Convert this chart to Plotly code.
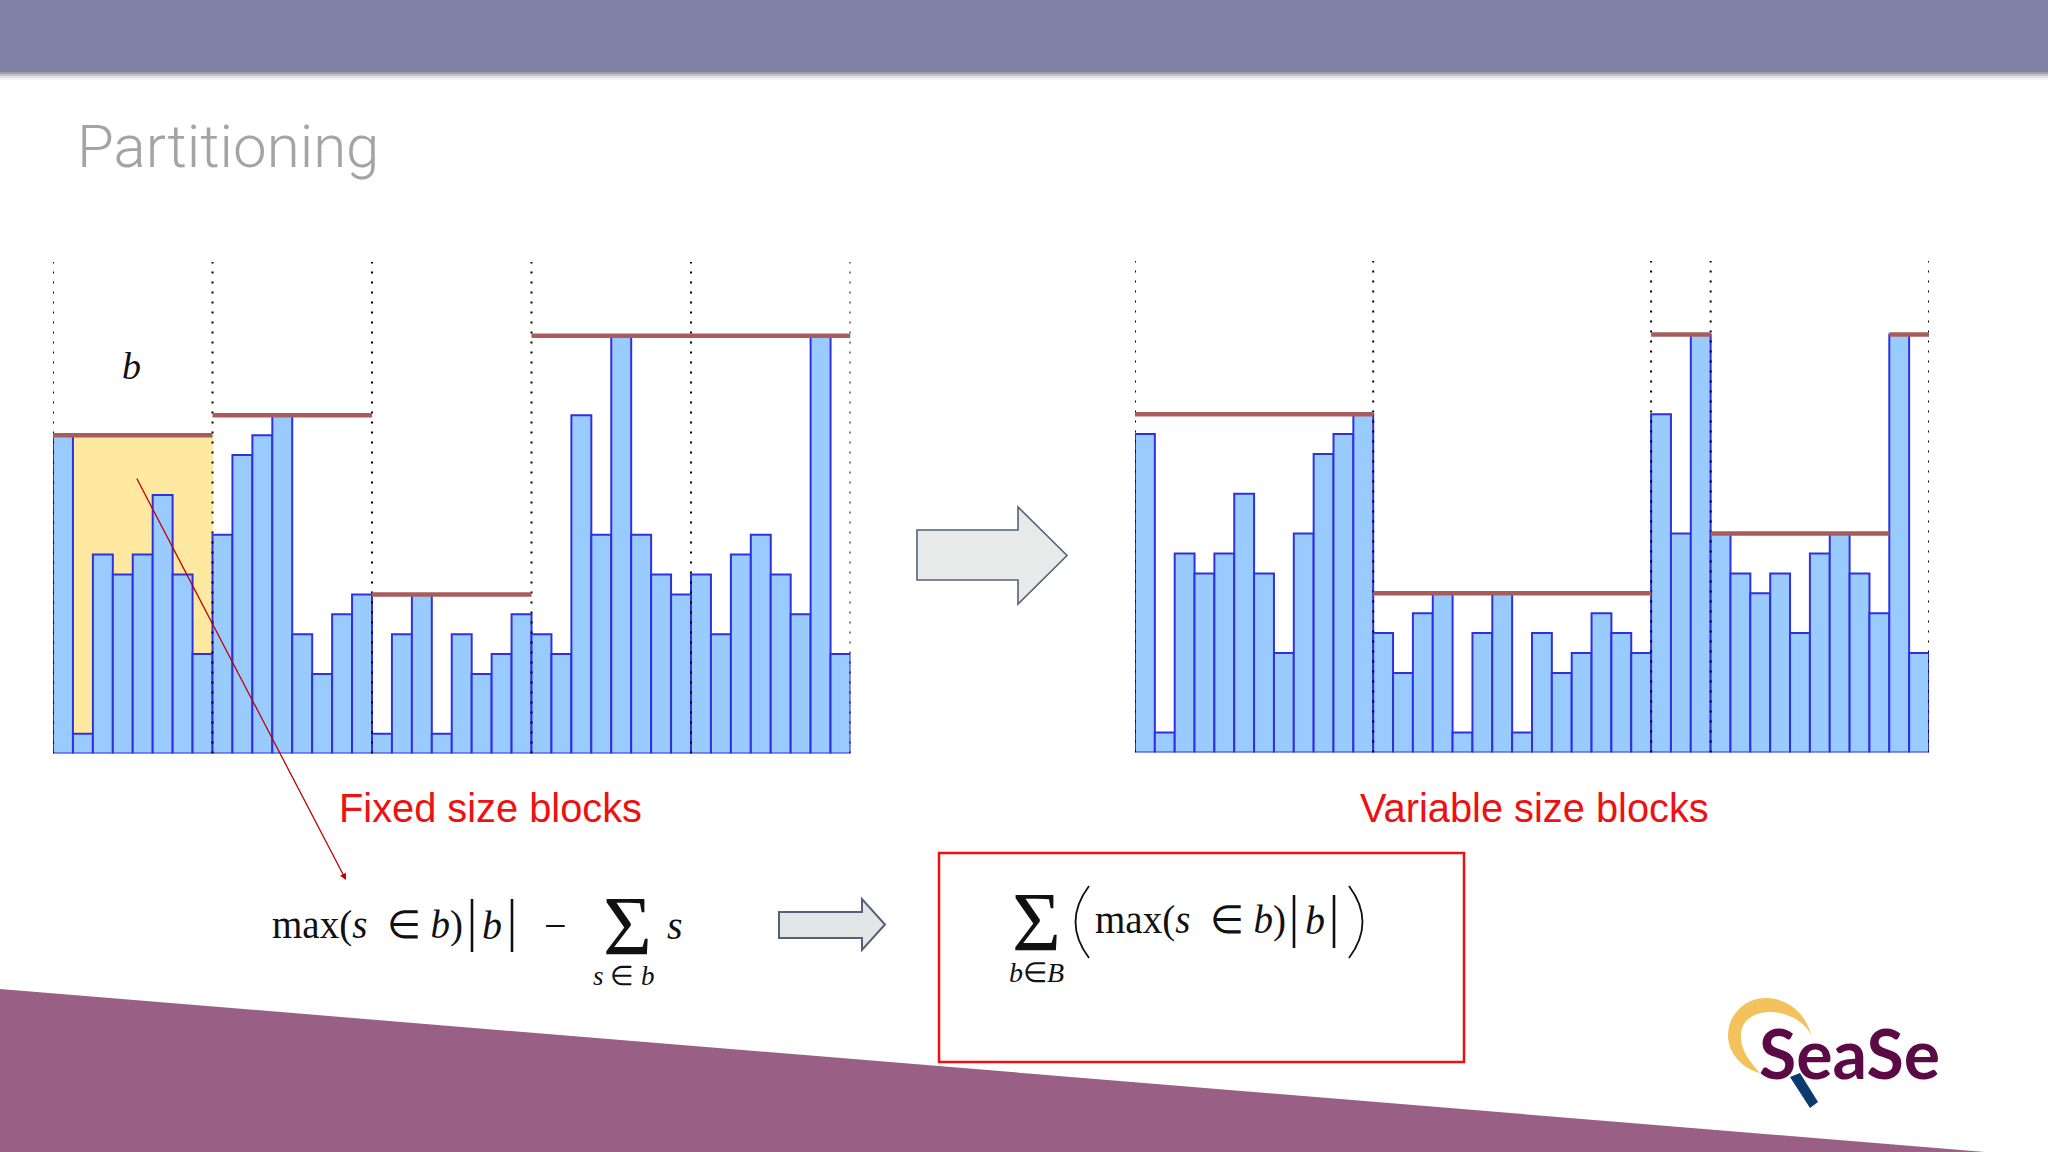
import plotly.graph_objects as go

W, H = 2048, 1152
heights = [16, 1, 10, 9, 10, 13, 9, 5,
           11, 15, 16, 17, 6, 4, 7, 8,
           1, 6, 8, 1, 6, 4, 5, 7,
           6, 5, 17, 11, 21, 11, 9, 8,
           9, 6, 10, 11, 9, 7, 21, 5]
fixed_edges = [0, 8, 16, 24, 32, 40]
variable_edges = [0, 12, 26, 29, 38, 40]
variable_dotted = [0, 12, 26, 29, 40]
dot_top = 24.7

BAR = "#99CBFF"; EDGE = "#3030E0"; MAXC = "#A95C5C"

def fx(x): return x / W
def fy(y): return 1 - y / H
def P(x, y): return f"{fx(x):.5f} {fy(y):.5f}"
def poly(pts): return "M " + " L ".join(P(*p) for p in pts) + " Z"

fig = go.Figure()

def panel(xa, ya, edges, dotted):
    fig.add_trace(go.Bar(x=[i + 0.5 for i in range(len(heights))], y=heights, width=1,
                         marker=dict(color=BAR, line=dict(color=EDGE, width=2)),
                         xaxis=xa, yaxis=ya, cliponaxis=False, hoverinfo="skip", showlegend=False))
    for e in dotted:
        fig.add_trace(go.Scatter(x=[e, e], y=[0, dot_top], mode="lines", xaxis=xa, yaxis=ya,
                                 line=dict(color="#000000", width=2, dash="2px,8px"),
                                 hoverinfo="skip", showlegend=False, cliponaxis=False))
    for a, b in zip(edges[:-1], edges[1:]):
        m = max(heights[a:b])
        fig.add_trace(go.Scatter(x=[a, b], y=[m, m], mode="lines", xaxis=xa, yaxis=ya,
                                 line=dict(color=MAXC, width=4.5), hoverinfo="skip",
                                 showlegend=False, cliponaxis=False))

panel("x", "y", fixed_edges, fixed_edges)
panel("x2", "y2", variable_edges, variable_dotted)

shapes = []
def S(path, fill=None, lc=None, lw=0, layer="above"):
    shapes.append(dict(type="path", path=path, xref="paper", yref="paper",
                       fillcolor=fill or "rgba(0,0,0,0)", layer=layer,
                       line=dict(color=lc or "rgba(0,0,0,0)", width=lw)))

# slide background
S(poly([(0, 0), (W, 0), (W, 72), (0, 72)]), "#8180A6", layer="below")
for i, c in enumerate(["#9f9fa8", "#c4c4c8", "#e2e2e4", "#f3f3f4"]):
    S(poly([(0, 72 + i * 2), (W, 72 + i * 2), (W, 74 + i * 2), (0, 74 + i * 2)]), c, layer="below")
S(poly([(0, 989), (1985, 1152), (0, 1152)]), "#9A5F84", layer="below")

# yellow block
shapes.append(dict(type="rect", xref="x", yref="y", x0=0, x1=8.03, y0=0, y1=16,
                   fillcolor="#FFE8A0", line=dict(width=0), layer="below"))

# big arrows
def arrow(x0, xm, x1, ys0, ys1, yh0, yh1, fill, lw):
    yc = (yh0 + yh1) / 2
    S(poly([(x0, ys0), (xm, ys0), (xm, yh0), (x1, yc), (xm, yh1), (xm, ys1), (x0, ys1)]),
      fill, "#56607A", lw)
arrow(917, 1018, 1067, 530, 580, 507, 604, "#E8E9E9", 1.6)
arrow(779, 862, 885, 912, 938, 899, 950, "#E3E6E6", 2)

# red result box
shapes.append(dict(type="rect", xref="paper", yref="paper", x0=fx(939), x1=fx(1464), y0=fy(1062), y1=fy(853),
                   line=dict(color="#EE1111", width=2.5), fillcolor="rgba(0,0,0,0)"))

# formula bars
def vbar(x, y0, y1):
    S(f"M {P(x, y0)} L {P(x, y1)}", None, "#111111", 2.6)
vbar(472, 899, 952); vbar(512, 899, 952)
vbar(1294, 895, 948); vbar(1334, 895, 948)

# large parentheses
S(f"M {P(1089, 886)} Q {P(1062, 922)} {P(1089, 958)}", None, "#111111", 1.8)
S(f"M {P(1349, 886)} Q {P(1376, 922)} {P(1349, 958)}", None, "#111111", 1.8)

# logo marks
S(f"M {P(1812, 1037)} C {P(1805, 1010)} {P(1785, 998)} {P(1765, 998)} "
  f"C {P(1745, 998)} {P(1728, 1015)} {P(1728, 1035)} C {P(1728, 1055)} {P(1745, 1070)} {P(1760, 1073)} "
  f"C {P(1750, 1062)} {P(1740, 1050)} {P(1741, 1035)} C {P(1741, 1020)} {P(1755, 1012)} {P(1770, 1012)} "
  f"C {P(1785, 1012)} {P(1805, 1020)} {P(1812, 1037)} Z", "#F3C25C")
S(poly([(1790, 1077), (1800, 1073), (1818, 1102), (1810, 1108)]), "#0B3A6E")

ann = []
def T(x, y, text, size, color="#111111", family="Liberation Serif", anchor="center", weight=None):
    f = dict(size=size, color=color, family=family)
    if weight: f["weight"] = weight
    ann.append(dict(x=fx(x), y=fy(y), xref="paper", yref="paper", text=text, showarrow=False,
                    xanchor=anchor, yanchor="middle", font=f, borderpad=0))

T(75.5, 147, "Partitioning", 60, "#A4A4A4", "Roboto", "left", 300)
T(131, 366, "<i>b</i>", 38)
T(490, 808, "Fixed size blocks", 39.8, "#EE1111", "Liberation Sans")
T(1534, 808, "Variable size blocks", 39.8, "#EE1111", "Liberation Sans")
T(271, 925, "max(<i>s</i>  ∈ <i>b</i>)", 39, anchor="left")
T(492, 925, "<i>b</i>", 40)
T(555, 925, "−", 40)
T(627, 926, "Σ", 84)
T(675, 925, "<i>s</i>", 40)
T(624, 976, "<i>s</i> ∈ <i>b</i>", 27)
T(1036, 922, "Σ", 84)
T(1036, 972, "<i>b</i>∈<i>B</i>", 28)
T(1094, 920, "max(<i>s</i>  ∈ <i>b</i>)", 39, anchor="left")
T(1315, 920, "<i>b</i>", 40)
T(1758, 1052, "SeaSe", 68, "#5C0A45", "Lato", "left", 700)

ann.append(dict(x=fx(346), y=fy(880), xref="paper", yref="paper", ax=136 - 346, ay=477 - 880,
                axref="pixel", ayref="pixel", text="", showarrow=True, arrowhead=2, arrowsize=1,
                arrowwidth=1.3, arrowcolor="#C00000"))

def ydom(base):
    unit = 19.9
    return [fy(base), fy(base - dot_top * unit)]

ax_off = dict(visible=False, fixedrange=True)
fig.update_layout(
    width=W, height=H, margin=dict(l=0, r=0, t=0, b=0), autosize=False,
    paper_bgcolor="#FFFFFF", plot_bgcolor="rgba(0,0,0,0)", barmode="overlay", showlegend=False,
    xaxis=dict(domain=[fx(53), fx(850.5)], range=[0, 40], anchor="y", **ax_off),
    yaxis=dict(domain=ydom(753.6), range=[0, dot_top], anchor="x", **ax_off),
    xaxis2=dict(domain=[fx(1135), fx(1929)], range=[0, 40], anchor="y2", **ax_off),
    yaxis2=dict(domain=ydom(752.5), range=[0, dot_top], anchor="x2", **ax_off),
    shapes=shapes, annotations=ann,
)
fig.write_html("out.html", post_script="document.body.style.margin='0';", config=dict(displayModeBar=False))
